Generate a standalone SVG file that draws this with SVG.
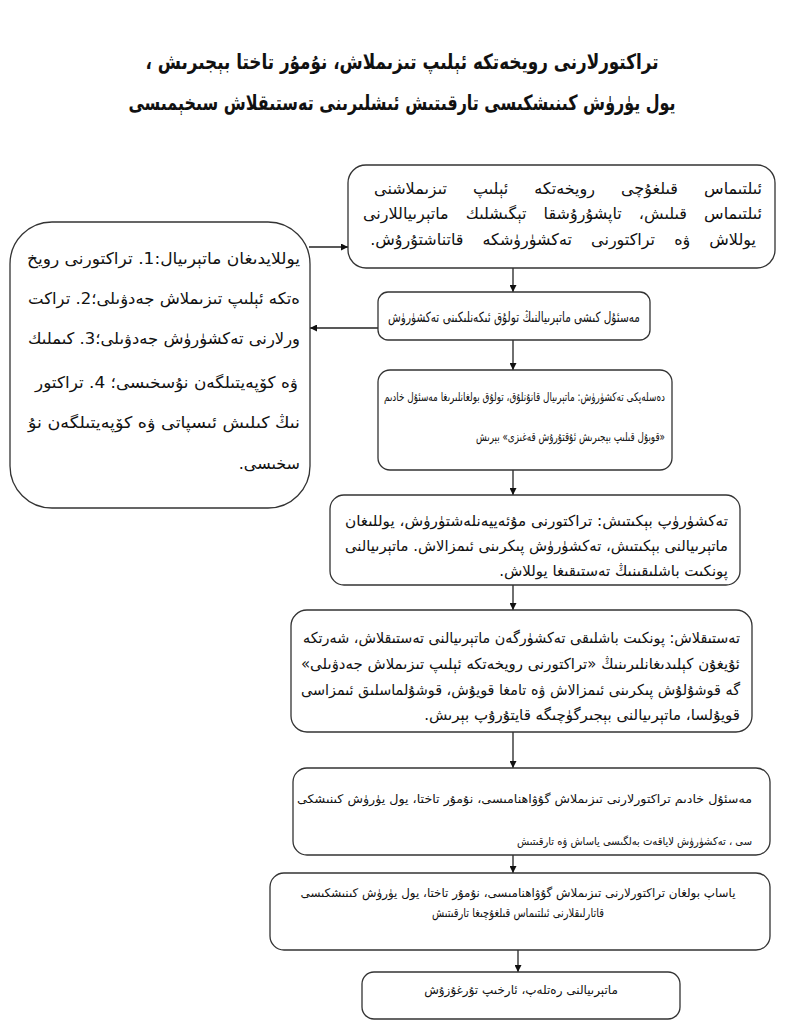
<svg xmlns="http://www.w3.org/2000/svg" width="800" height="1031" viewBox="0 0 800 1031">
<style>
text { font-family: "DejaVu Sans", sans-serif; fill: #111; }
.title { font-size: 21px; font-weight: bold; direction: rtl; text-anchor: middle; }
.box { fill: #fff; stroke: #333; stroke-width: 1.3; }
.r { direction: rtl; text-anchor: start; }
.c { direction: rtl; text-anchor: middle; }
.f16 { font-size: 16px; }
.f15 { font-size: 15px; }
.f14 { font-size: 14px; }
.f13 { font-size: 13px; }
.f12 { font-size: 12px; }
.f11 { font-size: 11px; }
.con { stroke: #222; stroke-width: 1.3; fill: none; marker-end: url(#ah); }
</style>
<defs>
<marker id="ah" viewBox="0 0 10 10" refX="10" refY="5" markerWidth="7" markerHeight="7" orient="auto" markerUnits="userSpaceOnUse">
<path d="M0,0 L10,5 L0,10 z" fill="#111"/>
</marker>
</defs>
<rect width="800" height="1031" fill="#fff"/>
<g id="title">
<text class="title" transform="translate(402,69) scale(0.8,1)" x="0" y="0">تراكتورلارنى رويخەتكە ئېلىپ تىزىملاش، نۇمۇر تاختا بېجىرىش ،</text>
<text class="title" transform="translate(402,110) scale(0.76,1)" x="0" y="0">يول يۈرۈش كىنىشكىسى تارقىتىش ئىشلىرىنى تەستىقلاش سىخېمىسى</text>
</g>
<g id="connectors">
<line class="con" x1="309" y1="247" x2="348" y2="247"/>
<line class="con" x1="378" y1="328" x2="310" y2="328"/>
<line class="con" x1="513" y1="268" x2="513" y2="292"/>
<line class="con" x1="513" y1="340" x2="513" y2="370"/>
<line class="con" x1="513" y1="470" x2="513" y2="495"/>
<line class="con" x1="513" y1="585" x2="513" y2="610"/>
<line class="con" x1="513" y1="732" x2="513" y2="768"/>
<line class="con" x1="513" y1="855" x2="513" y2="873"/>
<line class="con" x1="518" y1="950" x2="518" y2="972"/>
</g>
<g id="n1">
<rect class="box" x="348" y="165" width="427" height="103" rx="18"/>
<text class="r f16" x="762" y="194" word-spacing="21">ئىلتىماس قىلغۇچى رويخەتكە ئېلىپ تىزىملاشنى</text>
<text class="r f16" x="762" y="219" word-spacing="12">ئىلتىماس قىلىش، تاپشۇرۇشقا تېگىشلىك ماتېرىياللارنى</text>
<text class="r f16" x="756" y="245" word-spacing="14">يوللاش ۋە تراكتورنى تەكشۈرۈشكە قاتناشتۇرۇش.</text>
</g>
<g id="n_left">
<rect class="box" x="10" y="222" width="300" height="286" rx="42"/>
<text class="r f16" x="300" y="264" textLength="273" lengthAdjust="spacingAndGlyphs">يوللايدىغان ماتېرىيال:1. تراكتورنى رويخ</text>
<text class="r f16" x="300" y="304" textLength="272" lengthAdjust="spacingAndGlyphs">ەتكە ئېلىپ تىزىملاش جەدۋىلى؛2. تراكت</text>
<text class="r f16" x="300" y="344" textLength="272" lengthAdjust="spacingAndGlyphs">ورلارنى تەكشۈرۈش جەدۋىلى؛3. كىملىك</text>
<text class="r f16" x="298" y="388" textLength="263" lengthAdjust="spacingAndGlyphs">ۋە كۆپەيتىلگەن نۇسخىسى؛ 4. تراكتور</text>
<text class="r f16" x="300" y="428" textLength="272" lengthAdjust="spacingAndGlyphs">نىڭ كىلىش ئىسپاتى ۋە كۆپەيتىلگەن نۇ</text>
<text class="r f16" x="300" y="469">سخىسى.</text>
</g>
<g id="n2">
<rect class="box" x="378" y="292" width="272" height="48" rx="10"/>
<text class="r f14" x="640" y="322" textLength="252" lengthAdjust="spacingAndGlyphs">مەسئۇل كىشى ماتېرىيالنىڭ تولۇق ئىكەنلىكىنى تەكشۈرۈش</text>
</g>
<g id="n3">
<rect class="box" x="378" y="370" width="294" height="100" rx="12"/>
<text class="r f12" x="665" y="401" textLength="281" lengthAdjust="spacingAndGlyphs">دەسلەپكى تەكشۈرۈش: ماتېرىيال قانۇنلۇق، تولۇق بولغانلىرىغا مەسئۇل خادىم</text>
<text class="r f12" x="665" y="441" textLength="189" lengthAdjust="spacingAndGlyphs">«قوبۇل قىلىپ بېجىرىش ئۇقتۇرۇش قەغىزى» بېرىش</text>
</g>
<g id="n4">
<rect class="box" x="330" y="495" width="410" height="90" rx="14"/>
<text class="r f15" x="728" y="526" textLength="383" lengthAdjust="spacingAndGlyphs">تەكشۈرۈپ بېكىتىش: تراكتورنى مۇئەييەنلەشتۈرۈش، يوللىغان</text>
<text class="r f15" x="728" y="551" textLength="383" lengthAdjust="spacingAndGlyphs">ماتېرىيالنى بېكىتىش، تەكشۈرۈش پىكرىنى ئىمزالاش. ماتېرىيالنى</text>
<text class="r f15" x="728" y="576">پونكىت باشلىقىنىڭ تەستىقىغا يوللاش.</text>
</g>
<g id="n5">
<rect class="box" x="291" y="610" width="461" height="122" rx="16"/>
<text class="r f15" x="740" y="643" textLength="437" lengthAdjust="spacingAndGlyphs">تەستىقلاش: پونكىت باشلىقى تەكشۈرگەن ماتېرىيالنى تەستىقلاش، شەرتكە</text>
<text class="r f15" x="740" y="669" textLength="439" lengthAdjust="spacingAndGlyphs">ئۇيغۇن كېلىدىغانلىرىنىڭ «تراكتورنى رويخەتكە ئېلىپ تىزىملاش جەدۋىلى»</text>
<text class="r f15" x="740" y="695" textLength="439" lengthAdjust="spacingAndGlyphs">گە قوشۇلۇش پىكرىنى ئىمزالاش ۋە تامغا قويۇش، قوشۇلماسلىق ئىمزاسى</text>
<text class="r f15" x="740" y="720">قويۇلسا، ماتېرىيالنى بېجىرگۈچىگە قايتۇرۇپ بېرىش.</text>
</g>
<g id="n6">
<rect class="box" x="293" y="768" width="477" height="87" rx="14"/>
<text class="r f12" x="752" y="803" textLength="455" lengthAdjust="spacingAndGlyphs">مەسئۇل خادىم تراكتورلارنى تىزىملاش گۇۋاھنامىسى، نۇمۇر تاختا، يول يۈرۈش كىنىشكى</text>
<text class="r f11" x="752" y="845" textLength="235" lengthAdjust="spacingAndGlyphs">سى ، تەكشۈرۈش لاياقەت بەلگىسى ياساش ۋە تارقىتىش</text>
</g>
<g id="n7">
<rect class="box" x="270" y="873" width="500" height="77" rx="14"/>
<text class="c f12" x="518" y="897" textLength="435" lengthAdjust="spacingAndGlyphs">ياساپ بولغان تراكتورلارنى تىزىملاش گۇۋاھنامىسى، نۇمۇر تاختا، يول يۈرۈش كىنىشكىسى</text>
<text class="c f12" x="518" y="917" textLength="172" lengthAdjust="spacingAndGlyphs">قاتارلىقلارنى ئىلتىماس قىلغۇچىغا تارقىتىش</text>
</g>
<g id="n8">
<rect class="box" x="362" y="972" width="318" height="47" rx="12"/>
<text class="c f12" x="521" y="994">ماتېرىيالنى رەتلەپ، ئارخىپ تۇرغۇزۇش</text>
</g>
</svg>
